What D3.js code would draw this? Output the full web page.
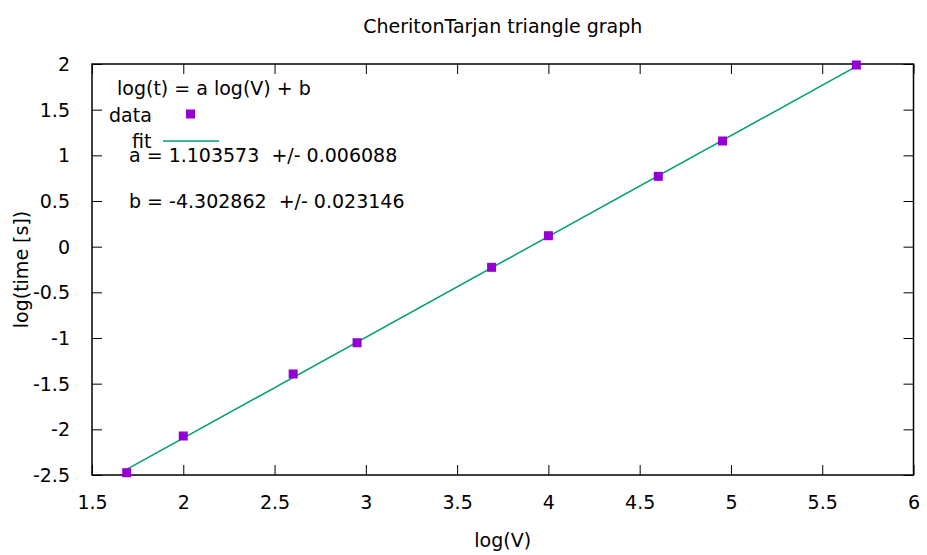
<!DOCTYPE html>
<html>
<head>
<meta charset="utf-8">
<script src="https://cdn.jsdelivr.net/npm/d3@7"></script>
<style>
  body { margin: 0; background: #fff; }
  svg { font-family: "DejaVu Sans", sans-serif; }
  text { fill: #000; white-space: pre; }
</style>
</head>
<body>
<svg width="927" height="555"></svg>
<script>
// data
const logV = [1.69, 2.0, 2.602, 2.952, 3.689, 4.0, 4.602, 4.954, 5.687];
const logT = [-2.475, -2.073, -1.394, -1.052, -0.226, 0.12, 0.77, 1.157, 1.989];
const fitA = 1.103573;
const fitB = -4.302862;
const fitLabels = ['a = 1.103573  +/- 0.006088', 'b = -4.302862  +/- 0.023146'];
const xTicks = [1.5, 2, 2.5, 3, 3.5, 4, 4.5, 5, 5.5, 6];
const yTicks = [-2.5, -2, -1.5, -1, -0.5, 0, 0.5, 1, 1.5, 2];

const margin = { left: 92, right: 13.5, top: 64, bottom: 80 };
const svg = d3.select('svg');
const width = +svg.attr('width');
const height = +svg.attr('height');
const innerWidth = width - margin.left - margin.right;
const innerHeight = height - margin.top - margin.bottom;

const xScale = d3.scaleLinear().domain([1.5, 6]).range([0, innerWidth]);
const yScale = d3.scaleLinear().domain([-2.5, 2]).range([innerHeight, 0]);

const g = svg.append('g')
    .attr('transform', `translate(${margin.left}, ${margin.top})`);

const fs = 19;
const tickLen = 10;

// axes, ticks pointing inward, mirrored on top and right
const xAxisG = g.append('g')
    .attr('transform', `translate(0, ${innerHeight})`)
    .call(d3.axisBottom(xScale).tickValues(xTicks).tickFormat(d => String(d))
      .tickSizeInner(-tickLen).tickSizeOuter(0).tickPadding(21));
const xTopG = g.append('g')
    .call(d3.axisTop(xScale).tickValues(xTicks).tickFormat('')
      .tickSizeInner(-tickLen).tickSizeOuter(0));
const yAxisG = g.append('g')
    .call(d3.axisLeft(yScale).tickValues(yTicks).tickFormat(d => String(d))
      .tickSizeInner(-tickLen).tickSizeOuter(0).tickPadding(22));
const yRightG = g.append('g')
    .attr('transform', `translate(${innerWidth}, 0)`)
    .call(d3.axisRight(yScale).tickValues(yTicks).tickFormat('')
      .tickSizeInner(-tickLen).tickSizeOuter(0));

[xAxisG, xTopG, yAxisG, yRightG].forEach(a => {
  a.select('.domain').remove();
  a.selectAll('line').attr('stroke', '#000').attr('stroke-width', 1);
  a.selectAll('text').attr('font-size', fs).attr('font-family', '"DejaVu Sans", sans-serif');
});
yAxisG.selectAll('text').attr('dy', '0.35em');
xAxisG.selectAll('text').attr('dy', '0.71em');

g.append('rect')
    .attr('width', innerWidth)
    .attr('height', innerHeight)
    .attr('fill', 'none')
    .attr('stroke', '#000')
    .attr('stroke-width', 1.5);

// fit line over the data range
const xExt = d3.extent(logV);
g.append('line')
    .attr('x1', xScale(xExt[0]))
    .attr('y1', yScale(fitA * xExt[0] + fitB))
    .attr('x2', xScale(xExt[1]))
    .attr('y2', yScale(fitA * xExt[1] + fitB))
    .attr('stroke', '#009e73')
    .attr('stroke-width', 1.5);

const pts = logV.map((v, i) => ({ x: v, y: logT[i] }));
const ps = 9;
g.selectAll('rect.pt').data(pts)
  .enter().append('rect')
    .attr('class', 'pt')
    .attr('x', d => xScale(d.x) - ps / 2)
    .attr('y', d => yScale(d.y) - ps / 2)
    .attr('width', ps)
    .attr('height', ps)
    .attr('fill', '#9400d3');

// key
svg.append('text').attr('x', 117).attr('y', 95).attr('font-size', fs)
    .text('log(t) = a log(V) + b');
svg.append('text').attr('x', 109).attr('y', 122).attr('font-size', fs)
    .text('data');
svg.append('rect').attr('x', 186).attr('y', 109.5).attr('width', ps).attr('height', ps)
    .attr('fill', '#9400d3');
svg.append('text').attr('x', 132).attr('y', 148).attr('font-size', fs)
    .text('fit');
svg.append('line').attr('x1', 163).attr('x2', 219).attr('y1', 141).attr('y2', 141)
    .attr('stroke', '#009e73').attr('stroke-width', 1.5);
svg.selectAll('text.fitlab').data(fitLabels)
  .enter().append('text')
    .attr('class', 'fitlab')
    .attr('x', 129)
    .attr('y', (d, i) => 162 + i * 46)
    .attr('font-size', fs)
    .text(d => d);

// title and axis labels
svg.append('text')
    .attr('x', margin.left + innerWidth / 2).attr('y', 33)
    .attr('text-anchor', 'middle').attr('font-size', fs)
    .text('CheritonTarjan triangle graph');
svg.append('text')
    .attr('x', margin.left + innerWidth / 2).attr('y', 547)
    .attr('text-anchor', 'middle').attr('font-size', fs)
    .text('log(V)');
svg.append('text')
    .attr('transform', `translate(28, ${margin.top + innerHeight / 2}) rotate(-90)`)
    .attr('text-anchor', 'middle').attr('font-size', fs)
    .text('log(time [s])');
</script>
</body>
</html>
